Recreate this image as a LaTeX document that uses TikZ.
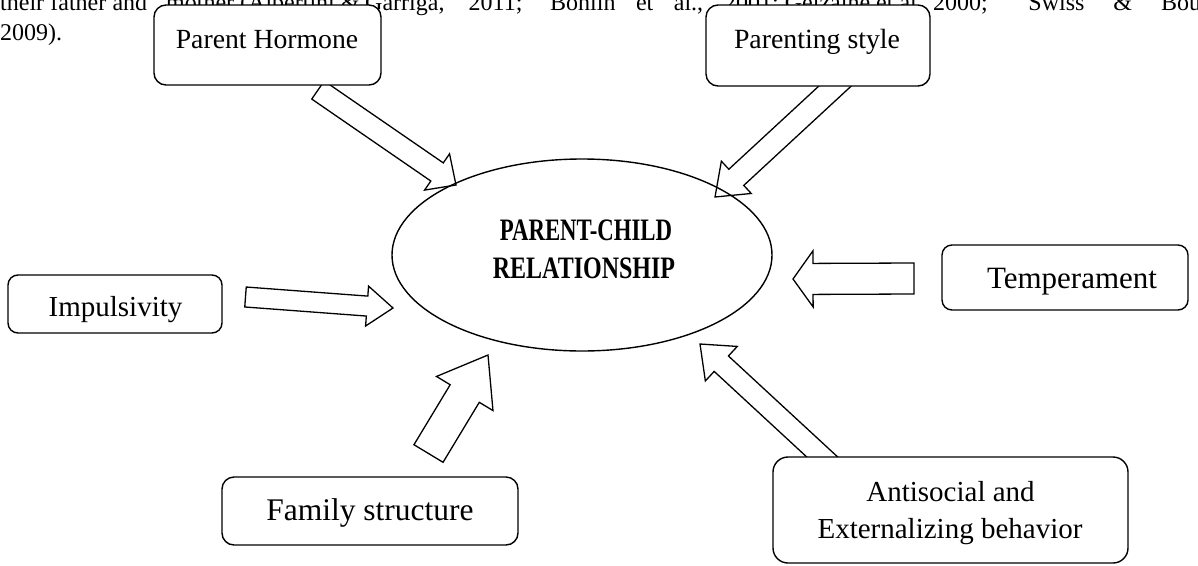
\documentclass[tikz,border=0pt]{standalone}
\usepackage{fontspec}
\setmainfont{Liberation Serif}
\usetikzlibrary{calc}
\tikzset{
  box/.style={draw, line width=1.4pt, rounded corners=12pt, fill=white, inner sep=0pt},
  lbl/.style={inner sep=0pt, anchor=base},
  blockarrow/.style={draw, line width=1.3pt, fill=white, line join=miter},
  bgtext/.style={inner sep=0pt, anchor=base west, font=\fontsize{24}{30}\selectfont},
  title/.style={inner sep=0pt, anchor=base, font=\fontsize{24}{30}\selectfont\bfseries},
}
\newcommand\blockarr[5]{%
  \path ($(#2)!#5!(#1)$) coordinate (ba-base);
  \draw[blockarrow] ($(#1)!#3!90:(#2)$) -- ($(ba-base)!#3!90:(#2)$) -- ($(ba-base)!#4!90:(#2)$) -- (#2)
    -- ($(ba-base)!#4!-90:(#2)$) -- ($(ba-base)!#3!-90:(#2)$) -- ($(#1)!#3!-90:(#2)$) -- cycle;}
\begin{document}
\begin{tikzpicture}[x=1pt,y=-1pt]
\fill[white] (0,0) rectangle (1198,565);
\useasboundingbox (0,0) rectangle (1198,565);

% background paragraph text
\node[bgtext] (t1) at (0,10) {\makebox[147pt][s]{their father and}};
\node[bgtext] (t2) at (166,10) {mother (Albertini \&};
\node[bgtext] (t3) at (365,10) {\makebox[338pt][s]{Garriga, 2011; Bohlin et al.,}};
\node[bgtext] (t4) at (724,10) {2001; Gelzaine et al.,};
\node[bgtext] (t5) at (933,10) {\makebox[268pt][s]{2000; Swiss \& Bou}};
\node[bgtext] (t6) at (0,40) {2009).};

% arrow end points
\coordinate (a1t) at (318,90);    \coordinate (a1h) at (456,185);
\coordinate (a2t) at (847,75);    \coordinate (a2h) at (715,197);
\coordinate (a3t) at (245.5,297); \coordinate (a3h) at (393,308);
\coordinate (a4t) at (914,278.5); \coordinate (a4h) at (793,279);
\coordinate (a5t) at (428.5,453.5); \coordinate (a5h) at (488,355);
\coordinate (a6t) at (832,466);   \coordinate (a6h) at (700,344);

\blockarr{a1t}{a1h}{11pt}{22pt}{23pt}
\blockarr{a2t}{a2h}{11pt}{22pt}{29pt}
\blockarr{a3t}{a3h}{10pt}{20pt}{26pt}
\blockarr{a4t}{a4h}{15.5pt}{28pt}{20pt}
\blockarr{a5t}{a5h}{17pt}{33pt}{45pt}
\blockarr{a6t}{a6h}{10.5pt}{23.5pt}{29pt}

% central ellipse
\draw[line width=1.4pt] (582,255) ellipse [x radius=190pt, y radius=96pt];
\node (pc) at (582,255) {};
\node[title] (pc1) at (586,240) {\scalebox{0.95}[1.3]{PARENT-CHILD}};
\node[title] (pc2) at (584,278) {\scalebox{1}[1.3]{RELATIONSHIP}};

% boxes
\node[box, minimum width=227pt, minimum height=80pt] (ph) at (267.5,45) {};
\node[lbl, font=\fontsize{27.7}{33}\selectfont] (pht) at (267,48) {Parent Hormone};

\node[box, minimum width=224pt, minimum height=81pt] (ps) at (818,45.5) {};
\node[lbl, font=\fontsize{27.8}{33}\selectfont] (pst) at (817,48) {Parenting style};

\node[box, rounded corners=10pt, minimum width=246pt, minimum height=65pt] (tm) at (1065,277.5) {};
\node[lbl, font=\fontsize{31}{36}\selectfont] (tmt) at (1072,288) {Temperament};

\node[box, rounded corners=10pt, minimum width=214pt, minimum height=58pt] (im) at (115,304) {};
\node[lbl, font=\fontsize{29}{34}\selectfont] (imt) at (115.5,316) {Impulsivity};

\node[box, minimum width=296pt, minimum height=68pt] (fs) at (370,511) {};
\node[lbl, font=\fontsize{31.5}{36}\selectfont] (fst) at (370,520) {Family structure};

\node[box, rounded corners=15pt, minimum width=355pt, minimum height=106pt] (as) at (950.5,510) {};
\node[lbl, font=\fontsize{29}{34}\selectfont] (ast1) at (950.5,501) {Antisocial and};
\node[lbl, font=\fontsize{29}{34}\selectfont] (ast2) at (950,538) {Externalizing behavior};
\end{tikzpicture}
\end{document}
